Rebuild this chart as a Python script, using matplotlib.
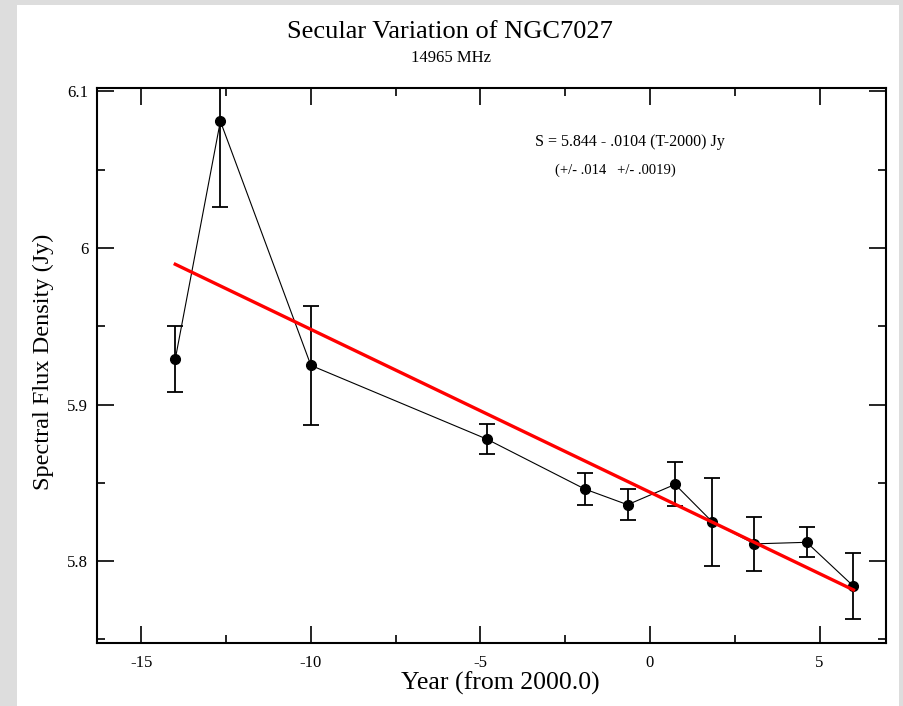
import numpy as np
import matplotlib
matplotlib.use('Agg')
import matplotlib.pyplot as plt
from matplotlib.patches import Rectangle

# data
year = [-14.0, -12.67, -10.0, -4.82, -1.92, -0.66, 0.74, 1.84, 3.08, 4.62, 6.0]
flux = [5.929, 6.081, 5.925, 5.878, 5.846, 5.836, 5.849, 5.825, 5.811, 5.812, 5.784]
err = [0.021, 0.055, 0.038, 0.0093, 0.010, 0.010, 0.014, 0.028, 0.0174, 0.0095, 0.021]

# fit S = a + b*T
fit_a = 5.844
fit_b = -0.0104
fit_range = [-14.0, 6.0]

plt.rcParams['font.family'] = ['Liberation Serif', 'DejaVu Serif']
plt.rcParams['axes.unicode_minus'] = False

fig = plt.figure(figsize=(9.04, 7.06), dpi=100)
fig.patch.set_facecolor('#dddddd')
fig.patches.append(Rectangle((17/904, 0), (899-17)/904, (706-5)/706,
                             transform=fig.transFigure, facecolor='white',
                             edgecolor='none', zorder=-10))

ax = fig.add_axes([96.6/904, (706-642.5)/706, (886.3-96.6)/904, (642.5-88.3)/706])

ax.errorbar(year, flux, yerr=err, fmt='o-', color='black', ms=7, lw=0.8,
            elinewidth=1.3, capsize=5.5, capthick=1.3, zorder=3)

fx = np.array(fit_range)
ax.plot(fx, fit_a + fit_b*fx, color='red', lw=2.4, zorder=4)

ax.set_xlim(-16.32, 6.97)
ax.set_ylim(5.748, 6.102)
ax.set_xticks([-15, -10, -5, 0, 5])
ax.set_xticks([-12.5, -7.5, -2.5, 2.5], minor=True)
ax.set_yticks([5.8, 5.9, 6.0, 6.1])
ax.set_yticklabels(['5.8', '5.9', '6', '6.1'])
ax.set_yticks([5.75, 5.85, 5.95, 6.05], minor=True)
ax.tick_params(which='both', direction='in', top=True, right=True, width=1.2, labelsize=12)
ax.tick_params(which='major', length=12)
ax.tick_params(which='minor', length=6)
ax.tick_params(axis='x', pad=9)
ax.tick_params(axis='y', pad=6)
for s in ax.spines.values():
    s.set_linewidth(1.5)

fig.text(500/904, 1 - 683/706, 'Year (from 2000.0)', ha='center', va='center', fontsize=18.5)
fig.text(43/904, 1 - 362/706, 'Spectral Flux Density (Jy)', ha='center', va='center',
         rotation=90, fontsize=17.5)

fig.text(450/904, 1 - 32/706, 'Secular Variation of NGC7027', ha='center', va='center', fontsize=19)
fig.text(451/904, 1 - 58/706, '14965 MHz', ha='center', va='center', fontsize=12)

fig.text(535/904, 1 - 142/706, 'S = 5.844 - .0104 (T-2000) Jy', ha='left', va='center', fontsize=11.5)
fig.text(555/904, 1 - 170/706, '(+/- .014   +/- .0019)', ha='left', va='center', fontsize=10.5)

fig.savefig('out.png', dpi=100, facecolor=fig.get_facecolor())
